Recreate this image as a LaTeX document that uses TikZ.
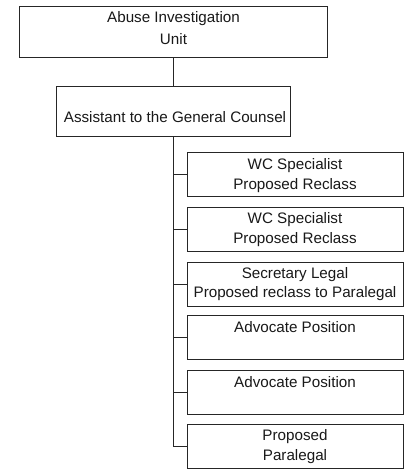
\documentclass[tikz,border=0pt]{standalone}
\usepackage{fontspec}
\setmainfont{Liberation Sans}
\begin{document}
\begin{tikzpicture}[x=1pt,y=-1pt,
  box/.style={draw=black!85,line width=0.8pt,rectangle,inner sep=0pt},
  kid/.style={box,minimum width=216pt,minimum height=44pt},
  lbl/.style={anchor=base,inner sep=0pt,font=\fontsize{15.2}{18}\selectfont,text=black!90},
  link/.style={draw=black!85,line width=0.8pt}]
\useasboundingbox (0,0) rectangle (411,470);
\fill[white] (0,0) rectangle (411,470);
\coordinate (trunk) at (173,0);
% boxes
\node[box,minimum width=308pt,minimum height=51pt] (top) at (173,31.5) {};
\node[box,minimum width=234pt,minimum height=50pt] (agc) at (173,111) {};
\node[kid] (c1) at (295,174.5) {};
\node[kid] (c2) at (295,229) {};
\node[kid] (c3) at (295,284) {};
\node[kid] (c4) at (295,337) {};
\node[kid] (c5) at (295,392) {};
\node[kid] (c6) at (295,446) {};
% labels
\node[lbl] (t1) at (173.5,22.7) {Abuse Investigation};
\node[lbl] (t2) at (173.5,45) {Unit};
\node[lbl] (t3) at (175,122.7) {Assistant to the General Counsel};
\node[lbl] (l1a) at (295,169.5) {WC Specialist};
\node[lbl] (l1b) at (295,189.5) {Proposed Reclass};
\node[lbl] (l2a) at (295,223.5) {WC Specialist};
\node[lbl] (l2b) at (295,243.5) {Proposed Reclass};
\node[lbl] (l3a) at (295,278.5) {Secretary Legal};
\node[lbl] (l3b) at (295,297) {Proposed reclass to Paralegal};
\node[lbl] (l4a) at (295,332.3) {Advocate Position};
\node[lbl] (l5a) at (295,387.3) {Advocate Position};
\node[lbl] (l6a) at (295,440.5) {Proposed};
\node[lbl] (l6b) at (295,460.5) {Paralegal};
% connectors
\draw[link] (top.south -| trunk) -- (agc.north -| trunk);
\draw[link] (agc.south -| trunk) -- (c6.west -| trunk) -- (c6.west);
\foreach \c in {c1,c2,c3,c4,c5}
  \draw[link] (\c.west -| trunk) -- (\c.west);
\end{tikzpicture}
\end{document}
